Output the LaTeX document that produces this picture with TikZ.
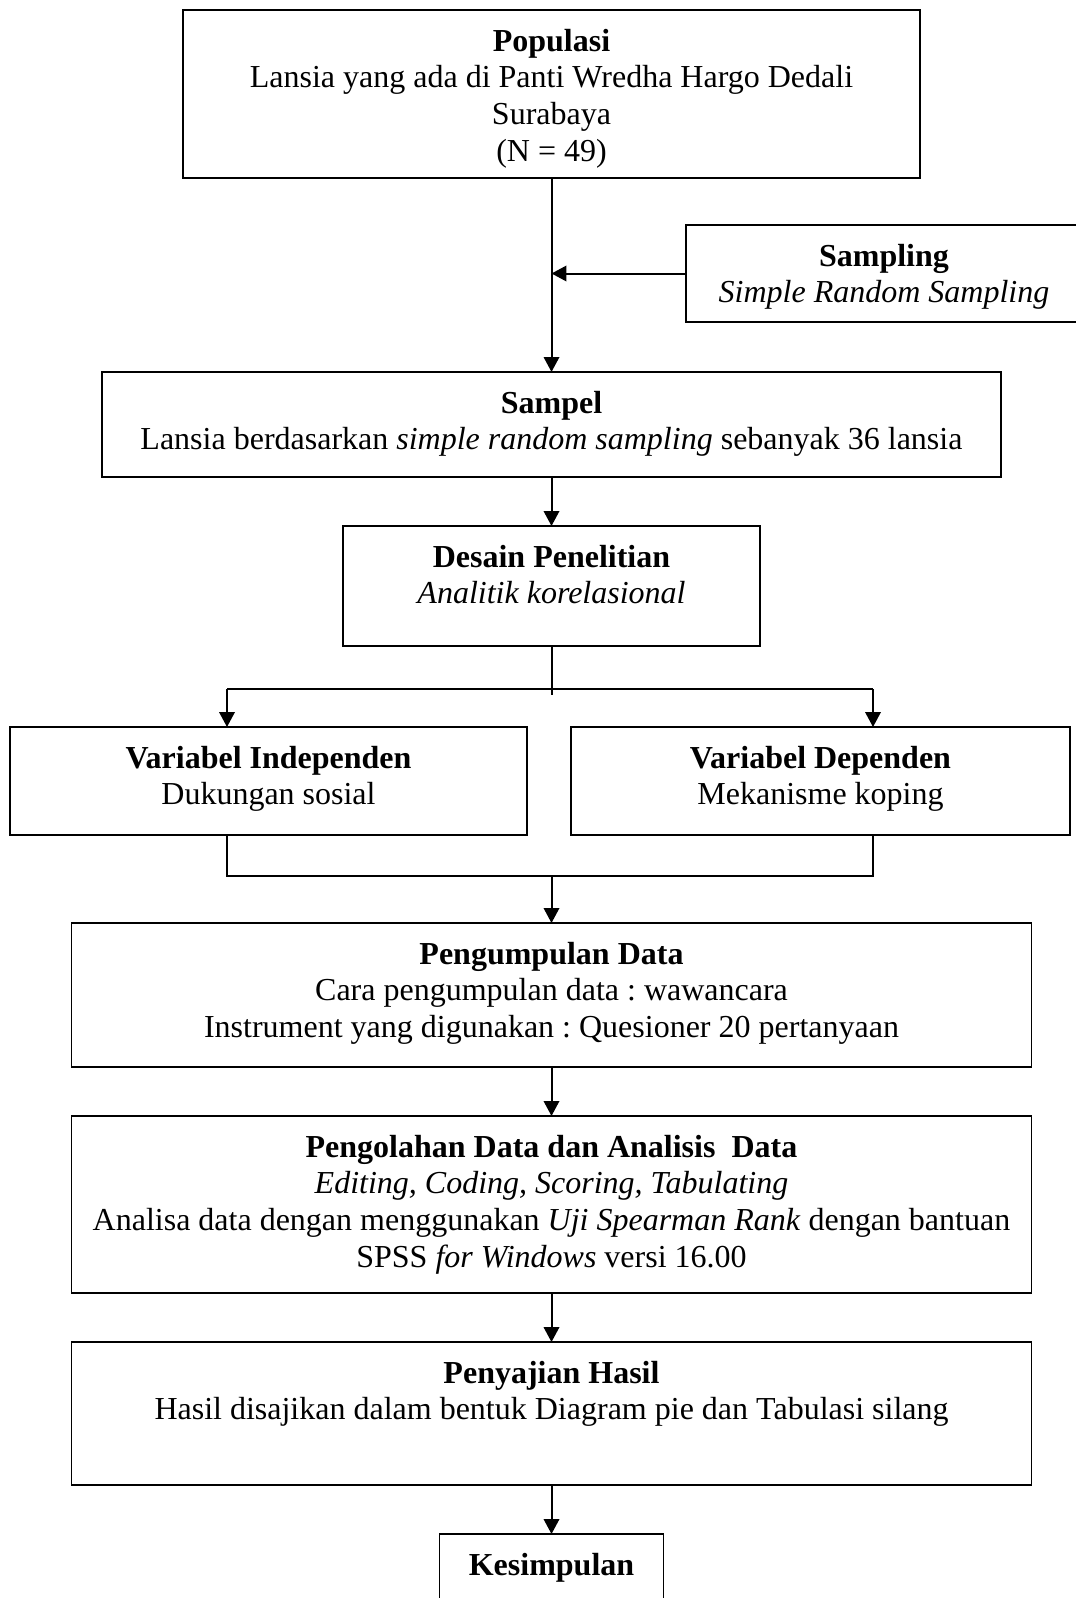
\documentclass[tikz,border=0pt]{standalone}
\usepackage{fontspec}
\setmainfont{Liberation Serif}
\usetikzlibrary{arrows.meta}

\begin{document}
\frenchspacing
\begin{tikzpicture}[x=0.375pt,y=-0.375pt,
  kotak/.style={draw,line width=0.7pt,inner sep=0pt,outer sep=0pt},
  teks/.style={anchor=north,align=center,inner sep=0pt,yshift=-6.9pt,font=\fontsize{12}{13.8}\selectfont},
  garis/.style={line width=0.75pt},
  panah/.style={garis,-{Triangle[length=5.6pt,width=5.8pt]}}]
\useasboundingbox (0,0) rectangle (1075,1598);
% kotak-kotak alur
\node [kotak,minimum width=276.4pt,minimum height=63pt,
  label={[teks]north:{\textbf{Populasi}\\Lansia yang ada di Panti Wredha Hargo Dedali\\Surabaya\\(N = 49)}}] (populasi) at (551.5,94) {};
\node [kotak,minimum width=148.5pt,minimum height=36.4pt,
  label={[teks]north:{\textbf{Sampling}\\\textit{Simple Random Sampling}}}] (sampling) at (884,273.5) {};
\node [kotak,minimum width=337.1pt,minimum height=39.4pt,
  label={[teks]north:{\textbf{Sampel}\\Lansia berdasarkan \textit{simple random sampling} sebanyak 36 lansia}}] (sampel) at (551.5,424.5) {};
\node [kotak,minimum width=156.4pt,minimum height=45pt,
  label={[teks]north:{\textbf{Desain Penelitian}\\\textit{Analitik korelasional}}}] (desain) at (551.5,586) {};
\node [kotak,minimum width=193.9pt,minimum height=40.5pt,
  label={[teks]north:{\textbf{Variabel Independen}\\Dukungan sosial}}] (indep) at (268.5,781) {};
\node [kotak,minimum width=187.1pt,minimum height=40.5pt,
  label={[teks]north:{\textbf{Variabel Dependen}\\Mekanisme koping}}] (dep) at (820.5,781) {};
\node [kotak,minimum width=360pt,minimum height=54pt,
  label={[teks]north:{\textbf{Pengumpulan Data}\\Cara pengumpulan data : wawancara\\Instrument yang digunakan : Quesioner 20 pertanyaan}}] (kumpul) at (551.5,995) {};
\node [kotak,minimum width=360pt,minimum height=66.4pt,
  label={[teks]north:{\textbf{Pengolahan Data dan Analisis~ Data}\\\textit{Editing, Coding, Scoring, Tabulating}\\Analisa data dengan menggunakan \textit{Uji Spearman Rank} dengan bantuan\\SPSS \textit{for Windows} versi 16.00}}] (olah) at (551.5,1204.5) {};
\node [kotak,minimum width=360pt,minimum height=53.6pt,
  label={[teks]north:{\textbf{Penyajian Hasil}\\Hasil disajikan dalam bentuk Diagram pie dan Tabulasi silang}}] (saji) at (551.5,1413.5) {};
\node [kotak,minimum width=84pt,minimum height=37.5pt,
  label={[teks]north:{\textbf{Kesimpulan}}}] (simpul) at (551.5,1584) {};

\coordinate (cabang) at (551.5,695);
\coordinate (kiri) at (227,689);
\coordinate (kanan) at (873,689);
\coordinate (gabungkiri) at (227,876);
\coordinate (gabungkanan) at (873,876);

\draw [panah] (populasi) -- (sampel);
\draw [panah] (sampling.west) -- (sampling.west -| populasi.south);
\draw [panah] (sampel) -- (desain);
\draw [garis] (desain) -- (cabang);
\draw [garis] (kiri) -- (kanan);
\draw [panah] (kiri) -- (kiri |- indep.north);
\draw [panah] (kanan) -- (kanan |- dep.north);
\draw [garis] (kiri |- indep.south) -- (gabungkiri) -- (gabungkanan) -- (kanan |- dep.south);
\draw [panah] (gabungkiri -| kumpul.north) -- (kumpul);
\draw [panah] (kumpul) -- (olah);
\draw [panah] (olah) -- (saji);
\draw [panah] (saji) -- (simpul);
\end{tikzpicture}
\end{document}
